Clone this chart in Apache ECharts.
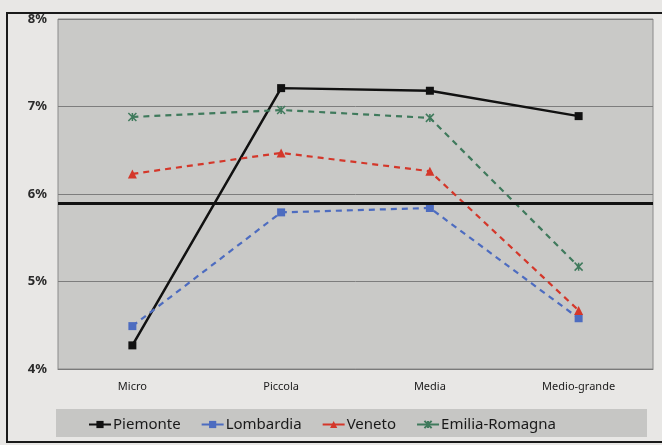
<!DOCTYPE html>
<html>
<head>
<meta charset="utf-8">
<script src="https://cdn.jsdelivr.net/npm/echarts@6/dist/echarts.min.js"></script>
<style>
  html, body { margin: 0; padding: 0; background: #e8e7e5; }
  #chart { width: 662px; height: 445px; }
</style>
</head>
<body>
<div id="chart"></div>
<script>
// Firm size classes
const categories = ['Micro', 'Piccola', 'Media', 'Medio-grande'];

// Rates by region (%)
const piemonte = [4.27, 7.21, 7.18, 6.89];
const lombardia = [4.49, 5.79, 5.84, 4.58];
const veneto = [6.23, 6.47, 6.26, 4.67];
const emiliaRomagna = [6.88, 6.96, 6.87, 5.17];

// Reference level drawn as a thick horizontal line
const referenceLevel = [5.89];

// Y axis range and step (%)
const yTicks = [4, 8, 1];

const starPath = 'path://M0,0L10,10M10,0L0,10M5,0L5,10';

const chart = echarts.init(document.getElementById('chart'));

const font = 'Noto Sans';

function lineSeries(name, data, color, symbol, dashed, width, size) {
  return {
    name: name,
    type: 'line',
    data: data,
    symbol: symbol,
    symbolSize: size,
    showSymbol: true,
    lineStyle: { color: color, width: width, type: dashed ? [6, 5] : 'solid' },
    itemStyle: { color: color, borderColor: color, borderWidth: symbol === starPath ? 1.5 : 0 },
    z: 3
  };
}

const series = [
  lineSeries('Piemonte', piemonte, '#111111', 'rect', false, 2.5, 8),
  lineSeries('Lombardia', lombardia, '#4d6cc0', 'rect', true, 2.2, 8),
  lineSeries('Veneto', veneto, '#d4372a', 'triangle', true, 2.2, 9),
  lineSeries('Emilia-Romagna', emiliaRomagna, '#3f7a5c', starPath, true, 2.2, 8)
];

series[0].markLine = {
  silent: true,
  symbol: 'none',
  label: { show: false },
  lineStyle: { color: '#111111', width: 3, type: 'solid' },
  data: referenceLevel.map(v => ({ yAxis: v }))
};

chart.setOption({
  backgroundColor: '#e8e7e5',
  animation: false,
  graphic: [
    {
      type: 'rect',
      shape: { x: 7, y: 13, width: 700, height: 429 },
      style: { fill: 'none', stroke: '#1a1a1a', lineWidth: 2 },
      z: 0
    },
    {
      type: 'rect',
      shape: { x: 56, y: 409, width: 591, height: 28 },
      style: { fill: '#c6c6c4' },
      z: 0
    }
  ],
  grid: {
    left: 58, right: 9, top: 19, bottom: 76,
    show: true,
    backgroundColor: '#c9c9c7',
    borderColor: '#8a8a8a',
    borderWidth: 1
  },
  legend: {
    top: 412,
    left: 83,
    itemGap: 20,
    itemWidth: 22,
    itemHeight: 9,
    lineStyle: { type: 'solid', width: 2 },
    textStyle: { fontFamily: font, fontSize: 15, color: '#1a1a1a', padding: [0, 0, 0, -3] },
    data: ['Piemonte', 'Lombardia', 'Veneto', 'Emilia-Romagna']
  },
  xAxis: {
    type: 'category',
    data: categories,
    boundaryGap: true,
    axisLine: { show: true, lineStyle: { color: '#7a7a7a' } },
    axisTick: { show: false },
    axisLabel: { fontFamily: font, fontSize: 11, color: '#1a1a1a', margin: 12 }
  },
  yAxis: {
    type: 'value',
    min: yTicks[0],
    max: yTicks[1],
    interval: yTicks[2],
    axisLine: { show: false },
    axisTick: { show: false },
    axisLabel: {
      fontFamily: font, fontSize: 13, fontWeight: 'bold', color: '#2a2a2a',
      margin: 11, formatter: '{value}%'
    },
    splitLine: { lineStyle: { color: '#7d7d7d', width: 1 } }
  },
  series: series
});
</script>
</body>
</html>
